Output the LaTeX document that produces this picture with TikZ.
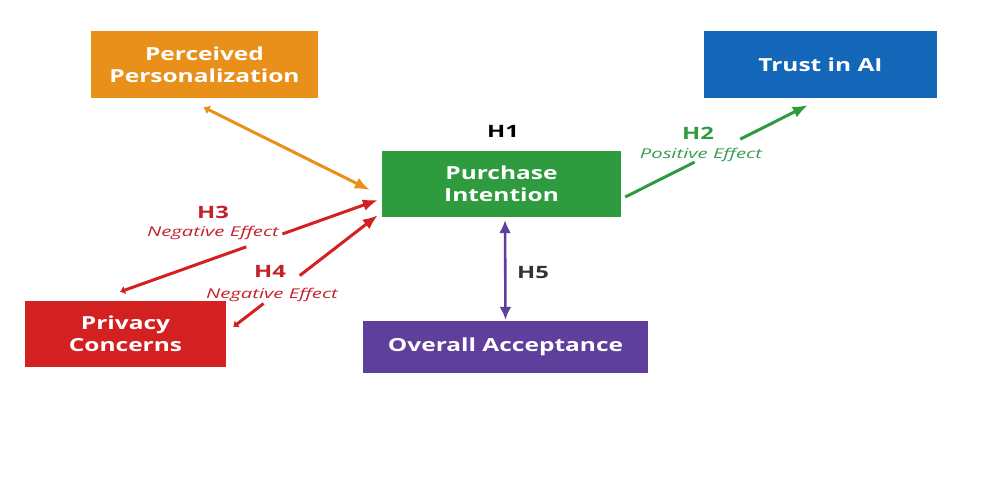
\documentclass[tikz,border=0pt]{standalone}
\usepackage{fontspec}
\setmainfont{Open Sans}
\newfontfamily\boxfont[FakeStretch=1.36]{Open Sans}
\newfontfamily\hfont[FakeStretch=1.4]{Open Sans}
\newfontfamily\efffont[FakeStretch=1.5]{Open Sans}
\usetikzlibrary{arrows.meta,calc}

\definecolor{cOrange}{HTML}{E8901A}
\definecolor{cBlue}{HTML}{1466B8}
\definecolor{cGreen}{HTML}{2E9B3F}
\definecolor{cRed}{HTML}{D32020}
\definecolor{cRedText}{HTML}{C4202C}
\definecolor{cPurple}{HTML}{5E3F9C}
\definecolor{cGreenText}{HTML}{3A9A55}

\tikzset{
  box/.style={draw=none, inner sep=0pt, text=white, align=center,
    font=\boxfont\fontsize{18}{22}\selectfont\bfseries},
  hlabel/.style={inner sep=0pt, font=\hfont\fontsize{17}{19}\selectfont\bfseries},
  effect/.style={inner sep=0pt, font=\efffont\fontsize{13.5}{15}\selectfont\itshape},
  conn/.style={line width=3pt},
  bighead/.style={-{Latex[length=15pt,width=12pt]}},
  smallhead/.style={{Latex[length=5pt,width=9pt]}-},
}

\begin{document}
\begin{tikzpicture}[x=1pt,y=-1pt]
\useasboundingbox (0,0) rectangle (1006,479);

% construct boxes
\node[box, fill=cOrange, minimum width=227pt, minimum height=67pt] (pp) at (204.5,64.5) {Perceived\\Personalization};
\node[box, fill=cBlue, minimum width=233pt, minimum height=67pt] (ai) at (820.5,64.5) {Trust in AI};
\node[box, fill=cGreen, minimum width=239pt, minimum height=66pt] (pi) at (501.5,184) {Purchase\\Intention};
\node[box, fill=cRed, minimum width=201pt, minimum height=66pt] (pc) at (125.5,334) {Privacy\\Concerns};
\node[box, fill=cPurple, minimum width=285pt, minimum height=52pt] (oa) at (505.5,347) {Overall Acceptance};

% end points of the connectors
\coordinate (o1) at ($(pp.south)+(-1,9)$);
\coordinate (o2) at ($(pi.west)+(-12,6)$);
\coordinate (r3a) at ($(pc.north)+(-5.5,-9)$);
\coordinate (r3b) at ($(pi.west)+(-4,16)$);
\coordinate (r4a) at ($(pc.east)+(7,-7)$);
\coordinate (r4b) at ($(pi.south west)+(-4,-2)$);
\coordinate (g2a) at ($(pi.east)+(4,13)$);
\coordinate (g2b) at ($(ai.south west)+(104,7)$);
\coordinate (v5a) at ($(pi.south)+(3.5,3)$);
\coordinate (v5b) at ($(oa.north)+(0,-1)$);

% connectors
\draw[conn, cOrange, {Latex[length=6pt,width=10pt]}-{Latex[length=15pt,width=12pt]}] (o1) -- (o2);

\draw[conn, cRed, smallhead] (r3a) -- ($(r3a)!0.49!(r3b)$);
\draw[conn, cRed, bighead] ($(r3a)!0.63!(r3b)$) -- (r3b);

\draw[conn, cRed, smallhead] (r4a) -- ($(r4a)!0.21!(r4b)$);
\draw[conn, cRed, bighead] ($(r4a)!0.46!(r4b)$) -- (r4b);

\draw[conn, cGreen] (g2a) -- ($(g2a)!0.38!(g2b)$);
\draw[conn, cGreen, bighead] ($(g2a)!0.63!(g2b)$) -- (g2b);

\draw[line width=2.6pt, cPurple, {Latex[length=13pt,width=12pt]}-{Latex[length=13pt,width=12pt]}] (v5a) -- (v5b);

% hypothesis labels
\node[hlabel] (h1) at (503,131) {H1};
\node[hlabel, text=cGreen] (h2) at (698,133) {H2};
\node[effect, text=cGreenText] (e2) at (701,155) {Positive Effect};
\node[hlabel, text=cRedText] (h3) at (213,212) {H3};
\node[effect, text=cRedText] (e3) at (213,233) {Negative Effect};
\node[hlabel, text=cRedText] (h4) at (270,271) {H4};
\node[effect, text=cRedText] (e4) at (272,295) {Negative Effect};
\node[hlabel, text=black!80] (h5) at (533,273) {H5};
\end{tikzpicture}
\end{document}
